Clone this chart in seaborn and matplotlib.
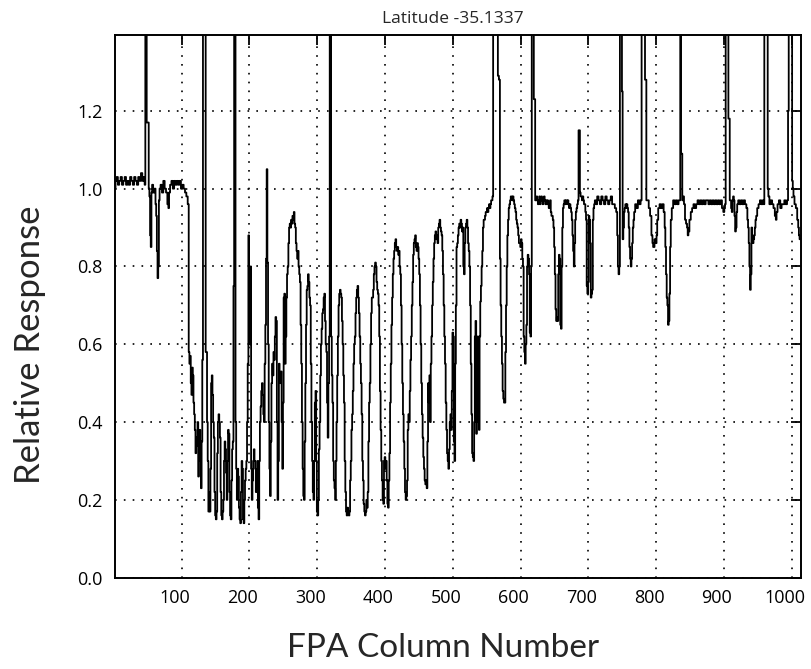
import pandas as pd
import matplotlib
matplotlib.use("Agg")
import matplotlib.pyplot as plt
import matplotlib.transforms as mtransforms
import seaborn as sns

sns.set_style("white")
plt.rcParams['font.family'] = ['Open Sans', 'DejaVu Sans']

# ---------------- DATA ---------------- #
# (FPA column, relative response); 1.9 = spike running off the top
flat_left = [
    (2, 1.00), (3, 1.02), (5, 1.03), (7, 1.01), (9, 1.02), (11, 1.03), (13, 1.01), (15, 1.02),
    (17, 1.03), (19, 1.01), (21, 1.02), (23, 1.01), (25, 1.03), (27, 1.02), (29, 1.01), (31, 1.03),
    (33, 1.02), (35, 1.01), (37, 1.03), (39, 1.02), (41, 1.04), (43, 1.02), (45, 1.03), (46, 1.01),
    (47, 1.9), (48, 1.9), (49, 1.17), (51, 1.17), (52, 1.00), (53, 0.98), (54, 0.88), (55, 0.85),
    (56, 0.99), (57, 1.01), (59, 0.99), (61, 1.00), (62, 0.96), (63, 0.93), (64, 0.84), (65, 0.77),
    (66, 0.80), (67, 0.97), (68, 1.00), (70, 1.01), (72, 0.99), (74, 1.02), (76, 1.00), (78, 0.99),
    (80, 0.96), (81, 0.95), (82, 0.99), (84, 1.01), (86, 1.02), (88, 1.00), (90, 1.02), (92, 1.01),
    (94, 1.02), (96, 1.01), (98, 1.02), (100, 1.00), (102, 1.01), (104, 1.00), (106, 0.99), (108, 0.98),
    (110, 0.96),
]

deep_band = [
    (111, 0.58), (112, 0.55), (113, 0.57), (114, 0.50), (115, 0.47), (116, 0.54), (117, 0.52), (118, 0.45),
    (119, 0.42), (120, 0.38), (121, 0.32), (122, 0.36), (123, 0.34), (124, 0.40), (125, 0.26), (126, 0.33),
    (127, 0.38), (128, 0.30), (129, 0.23), (130, 0.35), (131, 0.56), (132, 1.9), (135, 1.9), (136, 0.58),
    (137, 0.58), (138, 0.40), (139, 0.30), (140, 0.17), (141, 0.22), (142, 0.17), (143, 0.28), (144, 0.50),
    (145, 0.52), (146, 0.47), (147, 0.40), (148, 0.36), (149, 0.22), (150, 0.16), (151, 0.15), (152, 0.17),
    (153, 0.32), (154, 0.40), (155, 0.42), (156, 0.40), (157, 0.36), (158, 0.22), (159, 0.16), (160, 0.15),
    (161, 0.17), (162, 0.20), (163, 0.30), (164, 0.35), (165, 0.33), (166, 0.27), (167, 0.20), (168, 0.30),
    (169, 0.38), (170, 0.37), (171, 0.22), (172, 0.16), (173, 0.15), (174, 0.25), (175, 0.33), (176, 0.35),
    (177, 0.75), (178, 1.9), (179, 1.9), (180, 0.40), (181, 0.28), (182, 0.20), (183, 0.28), (184, 0.26),
    (185, 0.18), (186, 0.15), (187, 0.14), (188, 0.22), (189, 0.30), (190, 0.28), (191, 0.15), (192, 0.14),
    (193, 0.20), (194, 0.25), (195, 0.28), (196, 0.30), (197, 0.40), (198, 0.55), (199, 0.88), (200, 0.65),
    (201, 0.60), (202, 0.80), (203, 0.28), (204, 0.20), (205, 0.25), (206, 0.30), (207, 0.33), (208, 0.30),
    (209, 0.28), (210, 0.22), (211, 0.27), (212, 0.30), (213, 0.18), (214, 0.15), (215, 0.30), (216, 0.40),
    (217, 0.44), (218, 0.48), (219, 0.50), (220, 0.47), (221, 0.42), (222, 0.40), (223, 0.55), (224, 0.65),
    (225, 0.82), (226, 1.05), (227, 0.81), (228, 0.60), (229, 0.40), (230, 0.28), (231, 0.21), (232, 0.35),
    (233, 0.50), (234, 0.55), (235, 0.52), (236, 0.58), (237, 0.56), (238, 0.62), (239, 0.67), (240, 0.66),
    (241, 0.40), (242, 0.20), (243, 0.30), (244, 0.55), (245, 0.52), (246, 0.50), (247, 0.53), (248, 0.40),
    (249, 0.28), (250, 0.45), (251, 0.72), (252, 0.73),
]

fringe_a = [
    (253, 0.55), (254, 0.62), (255, 0.72), (256, 0.78), (257, 0.80), (258, 0.86), (259, 0.90), (260, 0.91),
    (261, 0.90), (262, 0.92), (263, 0.91), (264, 0.93), (265, 0.92), (266, 0.94), (267, 0.91), (268, 0.90),
    (269, 0.86), (270, 0.84), (271, 0.82), (272, 0.84), (273, 0.80), (274, 0.78), (275, 0.76), (276, 0.65),
    (277, 0.55), (278, 0.40), (279, 0.28), (280, 0.21), (281, 0.20), (282, 0.35), (283, 0.50), (284, 0.65),
    (285, 0.74), (286, 0.75), (287, 0.78), (288, 0.76), (289, 0.72), (290, 0.70), (291, 0.55), (292, 0.40),
    (293, 0.30), (294, 0.22), (295, 0.20), (296, 0.30), (297, 0.45), (298, 0.48), (299, 0.30), (300, 0.17),
    (301, 0.16), (302, 0.20), (303, 0.33), (304, 0.40), (305, 0.52), (306, 0.60), (307, 0.64), (308, 0.68),
    (309, 0.69), (310, 0.72), (311, 0.73), (312, 0.66), (313, 0.60), (314, 0.58), (315, 0.45), (316, 0.36),
    (317, 0.50), (318, 0.62), (319, 1.9), (320, 1.9), (321, 0.62), (322, 0.52), (323, 0.45), (324, 0.30),
    (325, 0.25), (326, 0.23), (327, 0.20), (328, 0.30), (329, 0.40), (330, 0.52), (331, 0.62), (332, 0.70),
    (333, 0.73), (334, 0.74), (335, 0.73), (336, 0.72), (337, 0.66), (338, 0.60), (339, 0.52), (340, 0.45),
    (341, 0.30), (342, 0.22), (343, 0.17), (344, 0.16), (345, 0.18), (346, 0.17), (347, 0.16), (348, 0.17),
    (349, 0.25), (350, 0.30), (351, 0.38), (352, 0.42), (353, 0.48), (354, 0.55), (355, 0.60), (356, 0.62),
    (357, 0.68), (358, 0.72), (359, 0.74), (360, 0.75), (361, 0.72), (362, 0.68), (363, 0.62), (364, 0.55),
    (365, 0.50), (366, 0.42), (367, 0.30), (368, 0.25), (369, 0.19), (370, 0.17), (371, 0.16), (372, 0.17),
    (373, 0.20), (374, 0.18), (375, 0.22), (376, 0.35), (377, 0.45), (378, 0.50), (379, 0.60), (380, 0.68),
    (381, 0.72),
]

fringe_b = [
    (382, 0.72), (383, 0.74), (384, 0.78), (385, 0.80), (386, 0.81), (387, 0.80), (388, 0.76), (389, 0.74),
    (390, 0.73), (391, 0.70), (392, 0.62), (393, 0.48), (394, 0.38), (395, 0.30), (396, 0.25), (397, 0.20),
    (398, 0.19), (399, 0.30), (400, 0.31), (401, 0.28), (402, 0.30), (403, 0.25), (404, 0.19), (405, 0.18),
    (406, 0.25), (407, 0.32), (408, 0.45), (409, 0.55), (410, 0.65), (411, 0.72), (412, 0.78), (413, 0.82),
    (414, 0.84), (415, 0.86), (416, 0.87), (417, 0.85), (418, 0.84), (419, 0.85), (420, 0.83), (421, 0.84),
    (422, 0.80), (423, 0.78), (424, 0.70), (425, 0.60), (426, 0.50), (427, 0.42), (428, 0.35), (429, 0.28),
    (430, 0.22), (431, 0.20), (432, 0.21), (433, 0.25), (434, 0.38), (435, 0.42), (436, 0.40), (437, 0.48),
    (438, 0.56), (439, 0.62), (440, 0.70), (441, 0.76), (442, 0.83), (443, 0.86), (444, 0.87), (445, 0.88),
    (446, 0.85), (447, 0.84), (448, 0.86), (449, 0.85), (450, 0.82), (451, 0.78), (452, 0.70), (453, 0.60),
    (454, 0.50), (455, 0.42), (456, 0.36), (457, 0.31), (458, 0.28), (459, 0.25), (460, 0.24), (461, 0.25),
    (462, 0.23), (463, 0.35), (464, 0.50), (465, 0.45), (466, 0.52), (467, 0.40), (468, 0.55), (469, 0.62),
    (470, 0.70), (471, 0.76), (472, 0.82), (473, 0.86), (474, 0.88), (475, 0.89), (476, 0.87), (477, 0.88),
    (478, 0.86), (479, 0.90), (480, 0.91), (481, 0.92), (482, 0.90), (483, 0.89), (484, 0.88), (485, 0.84),
    (486, 0.78), (487, 0.70), (488, 0.62), (489, 0.55), (490, 0.45), (491, 0.38), (492, 0.32), (493, 0.30),
    (494, 0.28), (495, 0.33), (496, 0.40), (497, 0.42), (498, 0.38), (499, 0.48), (500, 0.63), (501, 0.62),
    (502, 0.35), (503, 0.30), (504, 0.55), (505, 0.70), (506, 0.85),
]

recovery = [
    (507, 0.86), (508, 0.88), (509, 0.90), (510, 0.91), (511, 0.90), (512, 0.92), (513, 0.91), (514, 0.89),
    (515, 0.90), (516, 0.80), (517, 0.78), (518, 0.86), (519, 0.90), (520, 0.91), (521, 0.92), (522, 0.90),
    (523, 0.86), (524, 0.84), (525, 0.80), (526, 0.70), (527, 0.55), (528, 0.42), (529, 0.32), (530, 0.31),
    (531, 0.30), (532, 0.40), (533, 0.62), (534, 0.66), (535, 0.37), (536, 0.40), (537, 0.62), (538, 0.60),
    (539, 0.38), (540, 0.62), (541, 0.71), (542, 0.75), (543, 0.80), (544, 0.84), (545, 0.90), (546, 0.92),
    (547, 0.92), (548, 0.93), (549, 0.94), (550, 0.94), (551, 0.95), (552, 0.94), (553, 0.95), (554, 0.96),
    (555, 0.95), (556, 0.96), (557, 0.97), (558, 0.97), (559, 0.98), (560, 1.9), (566, 1.9), (567, 1.29),
    (569, 1.28), (570, 0.82), (571, 0.70), (572, 0.62), (573, 0.55), (574, 0.48), (575, 0.46), (576, 0.45),
    (577, 0.45), (578, 0.58), (579, 0.70), (580, 0.80), (581, 0.88), (582, 0.92), (583, 0.95), (584, 0.96),
    (585, 0.97), (586, 0.98), (587, 0.98), (588, 0.97), (589, 0.98), (590, 0.97), (591, 0.96), (592, 0.95),
    (593, 0.94), (594, 0.92), (595, 0.91), (596, 0.90), (597, 0.88), (598, 0.86), (599, 0.86), (600, 0.85),
    (601, 0.87), (602, 0.86), (603, 0.82), (604, 0.80), (605, 0.62), (606, 0.58), (607, 0.55), (608, 0.60),
    (609, 0.65), (610, 0.80), (611, 0.83), (612, 0.82), (613, 0.78), (614, 0.63), (615, 0.62), (616, 0.80),
    (617, 1.9), (619, 1.9), (620, 1.23), (621, 1.23), (622, 0.97),
]

plateau_a = [
    (623, 0.97), (624, 0.98), (625, 0.97), (626, 0.96), (627, 0.97), (628, 0.98), (629, 0.96), (630, 0.97),
    (631, 0.98), (632, 0.97), (633, 0.96), (634, 0.97), (635, 0.98), (636, 0.97), (637, 0.96), (638, 0.97),
    (639, 0.96), (640, 0.97), (641, 0.96), (642, 0.95), (643, 0.96), (644, 0.97), (645, 0.94), (646, 0.93),
    (647, 0.93), (648, 0.92), (649, 0.90), (650, 0.85), (651, 0.78), (652, 0.69), (653, 0.66), (654, 0.67),
    (655, 0.66), (656, 0.78), (657, 0.83), (658, 0.82), (659, 0.65), (660, 0.64), (661, 0.80), (662, 0.90),
    (663, 0.95), (664, 0.96), (665, 0.97), (666, 0.96), (667, 0.97), (668, 0.97), (669, 0.96), (670, 0.97),
    (671, 0.96), (672, 0.95), (673, 0.96), (674, 0.95), (675, 0.94), (676, 0.92), (677, 0.88), (678, 0.84),
    (679, 0.80), (680, 0.86), (681, 0.92), (682, 0.94), (683, 0.95), (684, 0.96), (685, 0.97), (686, 1.15),
    (687, 1.15), (688, 0.99), (689, 0.98), (690, 0.98), (691, 0.97), (692, 0.98), (693, 0.97), (694, 0.96),
    (695, 0.96), (696, 0.94), (697, 0.92), (698, 0.75), (699, 0.73), (700, 0.76), (701, 0.93), (702, 0.92),
    (703, 0.86), (704, 0.72), (705, 0.73), (706, 0.74), (707, 0.92), (708, 0.95), (709, 0.96), (710, 0.97),
    (712, 0.96), (714, 0.98), (716, 0.97), (718, 0.96), (720, 0.98), (722, 0.97), (724, 0.96), (726, 0.98),
    (728, 0.97), (730, 0.96), (732, 0.97), (734, 0.98), (736, 0.96), (738, 0.96), (740, 0.95), (742, 0.94),
    (743, 0.88), (744, 0.80), (745, 0.78), (746, 0.80), (747, 1.9), (749, 1.9), (750, 1.25), (751, 0.87),
    (752, 0.90), (753, 0.94), (754, 0.95), (755, 0.96), (756, 0.95), (757, 0.96), (758, 0.95),
]

plateau_b = [
    (759, 0.94), (760, 0.90), (761, 0.85), (762, 0.82), (763, 0.80), (764, 0.82), (765, 0.86), (766, 0.90),
    (767, 0.92), (768, 0.94), (770, 0.96), (772, 0.95), (774, 0.97), (776, 0.96), (778, 0.97), (779, 1.9),
    (783, 1.9), (784, 1.28), (785, 1.28), (786, 0.97), (788, 0.97), (790, 0.95), (792, 0.93), (794, 0.88),
    (795, 0.86), (796, 0.85), (797, 0.85), (798, 0.87), (800, 0.86), (801, 0.88), (802, 0.92), (804, 0.95),
    (806, 0.96), (808, 0.95), (810, 0.96), (812, 0.94), (813, 0.90), (814, 0.85), (815, 0.78), (816, 0.72),
    (817, 0.70), (818, 0.65), (819, 0.66), (820, 0.73), (821, 0.85), (822, 0.92), (824, 0.95), (826, 0.97),
    (828, 0.96), (830, 0.97), (832, 0.96), (834, 0.97), (835, 0.97), (836, 1.9), (837, 1.09), (838, 1.09),
    (839, 0.97), (840, 0.98), (842, 0.96), (843, 0.92), (845, 0.91), (846, 0.90), (847, 0.88), (848, 0.89),
    (850, 0.92), (852, 0.94), (854, 0.95), (856, 0.96), (858, 0.95), (860, 0.96), (862, 0.97), (864, 0.96),
    (866, 0.97), (868, 0.96), (870, 0.97), (872, 0.96), (874, 0.97), (876, 0.97), (878, 0.96), (880, 0.97),
    (882, 0.96), (884, 0.97), (886, 0.96), (888, 0.97),
]

plateau_c = [
    (890, 0.96), (892, 0.97), (894, 0.96), (896, 0.97), (898, 0.95), (900, 0.94), (901, 0.95), (902, 0.96),
    (903, 1.9), (906, 1.9), (907, 1.18), (908, 1.18), (909, 0.97), (910, 0.97), (911, 0.95), (912, 0.94),
    (913, 0.97), (914, 0.98), (915, 0.97), (916, 0.93), (917, 0.89), (918, 0.90), (919, 0.94), (920, 0.96),
    (922, 0.97), (924, 0.96), (926, 0.97), (928, 0.96), (930, 0.97), (932, 0.96), (934, 0.95), (935, 0.92),
    (936, 0.90), (937, 0.86), (938, 0.80), (939, 0.74), (940, 0.78), (941, 0.90), (942, 0.88), (943, 0.86),
    (944, 0.87), (945, 0.88), (946, 0.90), (947, 0.92), (948, 0.93), (950, 0.95), (952, 0.96), (954, 0.97),
    (956, 0.96), (958, 0.97), (959, 0.96), (960, 1.9), (964, 1.9), (965, 1.00), (966, 0.98), (968, 0.96),
    (970, 0.97), (972, 0.96), (974, 0.95), (976, 0.93), (977, 0.92), (978, 0.94), (980, 0.96), (982, 0.97),
    (984, 0.95), (986, 0.96), (988, 0.96), (990, 0.97), (992, 0.96), (994, 0.97), (995, 1.20), (996, 1.9),
    (1000, 1.9), (1001, 1.02), (1002, 1.00), (1003, 0.98), (1005, 0.96), (1007, 0.95), (1009, 0.92),
    (1010, 0.90), (1011, 0.88), (1012, 0.87), (1013, 0.87),
]

x_ticks = [100, 200, 300, 400, 500, 600, 700, 800, 900, 1000]
y_ticks = [0.0, 0.2, 0.4, 0.6, 0.8, 1.0, 1.2]
title = "Latitude -35.1337"
x_label = "FPA Column Number"
y_label = "Relative Response"

# ---------------- PLOT ---------------- #
rows = flat_left + deep_band + fringe_a + fringe_b + recovery + plateau_a + plateau_b + plateau_c
df = pd.DataFrame(rows, columns=["col", "resp"])

fig = plt.figure(figsize=(8.11, 6.69), dpi=100)
ax = fig.add_axes([0.142, 0.1365, 0.846, 0.8112])

sns.lineplot(data=df, x="col", y="resp", color="black", linewidth=1.3,
             estimator=None, sort=False, drawstyle="steps-mid", ax=ax)

ax.set_xlim(2, 1014)
ax.set_ylim(0, 1.395)
ax.set_xticks(x_ticks)
ax.set_yticks(y_ticks)
ax.set_yticklabels([f"{v:.1f}" for v in y_ticks])
ax.grid(True, color="black", linestyle=(0, (1, 4.3)), linewidth=1.2)
ax.tick_params(direction="in", length=7, width=1.3, top=True, right=True,
               labelsize=13, colors="black")
ax.tick_params(axis="x", pad=8)
ax.tick_params(axis="y", pad=9)
for s in ax.spines.values():
    s.set_linewidth(1.4)
    s.set_color("black")

# tick labels sit a little left of their ticks in the original
shift = mtransforms.ScaledTranslation(-7 / 100, 0, fig.dpi_scale_trans)
for lab in ax.get_xticklabels():
    lab.set_transform(lab.get_transform() + shift)

ax.set_xlabel("")
ax.set_ylabel("")

fig.text(453 / 811, 1 - 19 / 669, title, ha="center", va="center", fontsize=12.5)
fig.text(443 / 811, 1 - 648 / 669, x_label, ha="center", va="center",
         fontsize=24, family=["Lato", "DejaVu Sans"])
fig.text(30 / 811, 1 - 345 / 669, y_label, ha="center", va="center", rotation=90,
         fontsize=25, family=["Lato", "DejaVu Sans"])

fig.savefig("out.png", dpi=100)
